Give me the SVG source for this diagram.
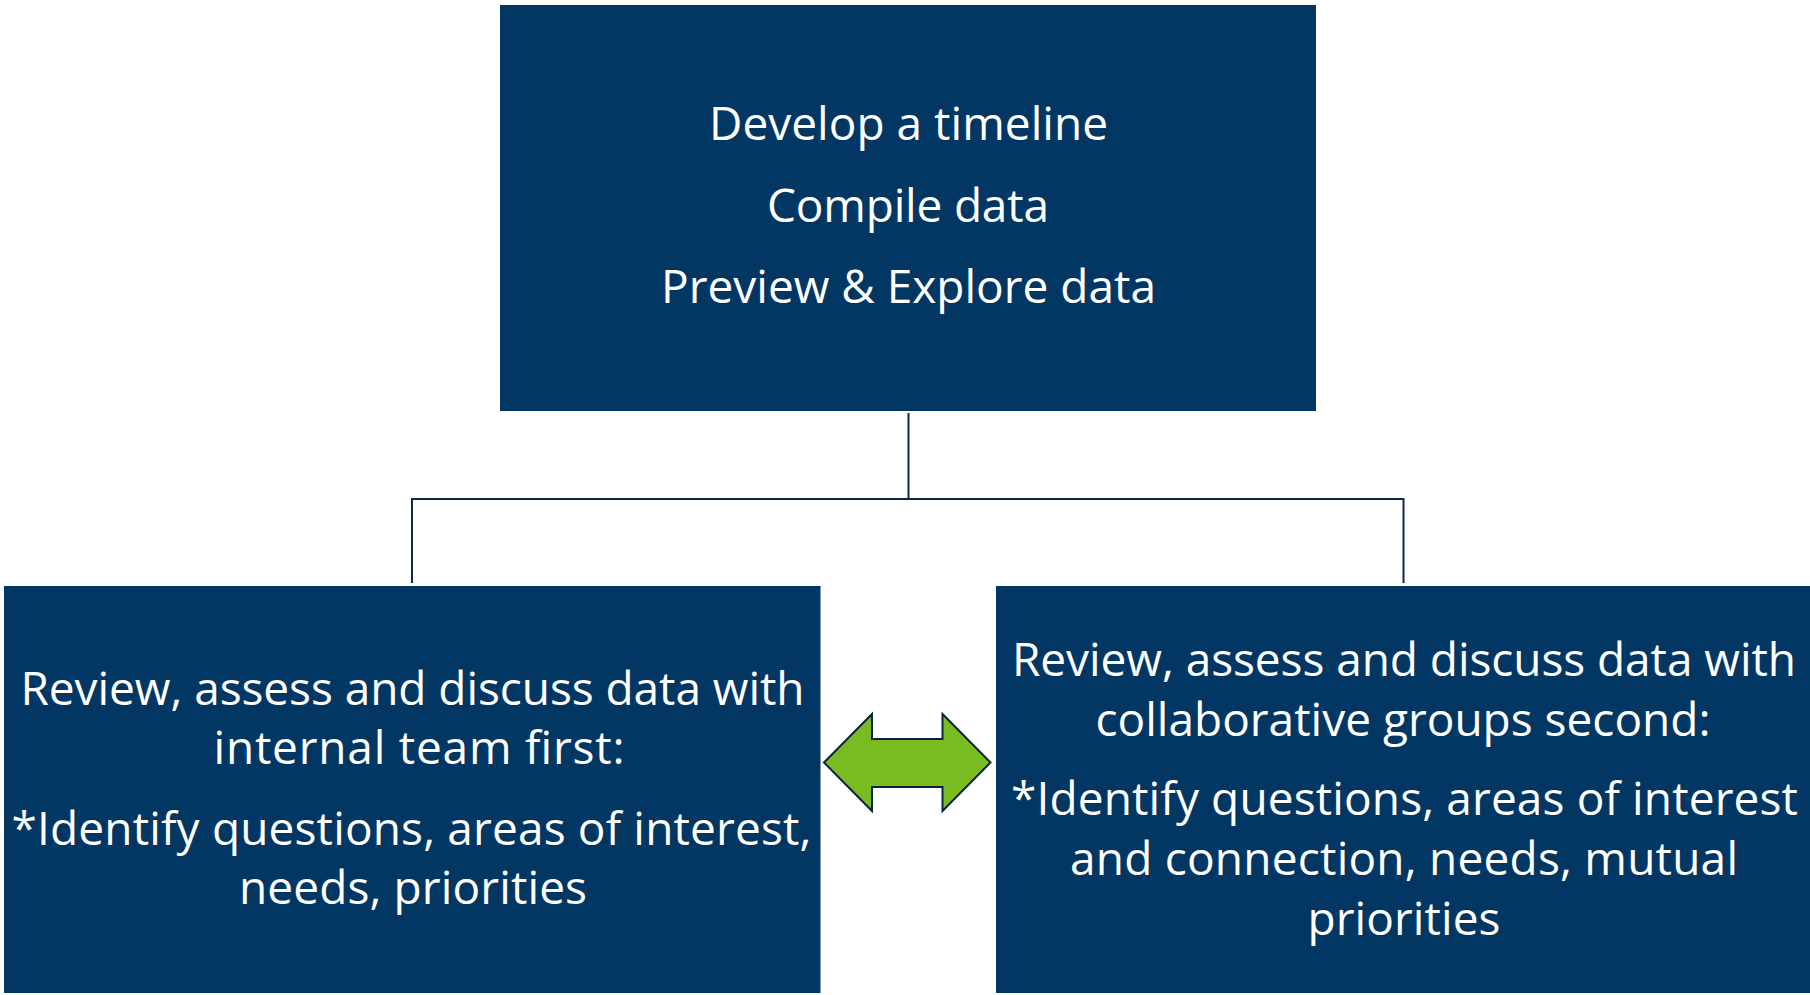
<svg xmlns="http://www.w3.org/2000/svg" width="1810" height="995" viewBox="0 0 1810 995">
  <style>
    .box { fill: #023764; }
    .label { font-family: "Open Sans", "Noto Sans", sans-serif; font-size: 46px; fill: #ffffff; text-anchor: middle; }
    .link { fill: none; stroke: #0b2a4c; stroke-width: 2; }
    .both { fill: #78bc21; stroke: #0c2340; stroke-width: 2; stroke-linejoin: miter; }
  </style>
  <rect width="1810" height="995" fill="#ffffff"/>

  <!-- tree connectors -->
  <g id="connectors">
    <path class="link" d="M908.5 413 V499 M412 583 V499 H1403.5 V583"/>
    <polygon class="both" points="824,762.5 872,714 872,739 942.5,739 942.5,714 990.5,762.5 942.5,811 942.5,787 872,787 872,811"/>
  </g>

  <g id="prep">
    <rect class="box" x="500" y="5" width="816" height="406"/>
    <text class="label" x="908.5" y="140" textLength="399">Develop a timeline</text>
    <text class="label" x="908" y="222" textLength="282">Compile data</text>
    <text class="label" x="908.5" y="303" textLength="495">Preview &amp; Explore data</text>
  </g>

  <g id="internal">
    <rect class="box" x="4" y="586" width="816.5" height="407"/>
    <text class="label" x="412.5" y="705" textLength="784">Review, assess and discuss data with</text>
    <text class="label" x="419" y="764" textLength="411">internal team first:</text>
    <text class="label" x="411.5" y="845" textLength="800">*Identify questions, areas of interest,</text>
    <text class="label" x="413" y="904" textLength="348">needs, priorities</text>
  </g>

  <g id="collaborative">
    <rect class="box" x="996" y="586" width="814" height="407"/>
    <text class="label" x="1404" y="676" textLength="784">Review, assess and discuss data with</text>
    <text class="label" x="1403" y="736" textLength="615">collaborative groups second:</text>
    <text class="label" x="1404.5" y="815" textLength="787">*Identify questions, areas of interest</text>
    <text class="label" x="1404" y="875" textLength="668">and connection, needs, mutual</text>
    <text class="label" x="1404" y="935" textLength="193">priorities</text>
  </g>
</svg>
